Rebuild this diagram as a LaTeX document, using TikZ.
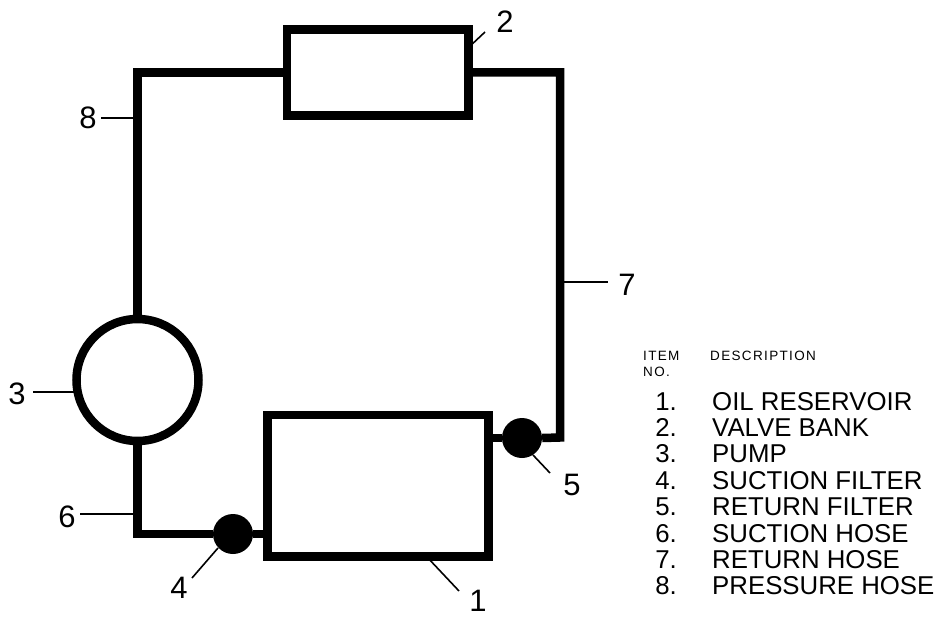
\documentclass[tikz,border=0pt]{standalone}
\usepackage{fontspec}
\setmainfont{Liberation Sans}
\newfontfamily\smallhdr[LetterSpace=10]{Liberation Sans}
\begin{document}
\begin{tikzpicture}[x=1pt,y=-1pt,
  pipe/.style={line width=8.5pt,line join=miter,line cap=butt},
  comp/.style={draw,line width=8.5pt,line join=miter,inner sep=0pt,fill=white},
  filt/.style={circle,fill=black,inner sep=0pt,minimum size=40pt},
  leader/.style={line width=1.6pt},
  lab/.style={inner sep=0pt,font=\fontsize{31}{31}\selectfont},
  num/.style={inner sep=0pt,anchor=base east,font=\fontsize{25.8}{25.8}\selectfont},
  desc/.style={inner sep=0pt,anchor=base west,font=\fontsize{25.8}{25.8}\selectfont},
  hdr/.style={inner sep=0pt,anchor=base west,font=\smallhdr\fontsize{13.5}{13.5}\selectfont}]
\useasboundingbox (0,0) rectangle (943,618);
% components
\node[comp,rectangle,minimum width=181.5pt,minimum height=85.5pt] (valve) at (377.5,72.5) {};
\node[comp,rectangle,minimum width=221pt,minimum height=141.5pt] (res) at (377.75,485.5) {};
\node[comp,circle,minimum size=122pt] (pump) at (137.5,380) {};
\node[filt] (f4) at (233,534) {};
\node[filt] (f5) at (522,438) {};
\coordinate (c7) at (560,437.5);
% pipes
\draw[pipe] (pump.north) |- (valve.west);
\draw[pipe] (valve.east) -| (c7) -- (f5.east);
\draw[pipe] (f5.west) -- (f5.west -| res.east);
\draw[pipe] (pump.south) |- (f4.west);
\draw[pipe] (f4.east) -- (f4.east -| res.west);
% labels and leaders
\node[lab] (l1) at (478,601) {1};
\node[lab] (l2) at (505,21.5) {2};
\node[lab] (l3) at (17,394) {3};
\node[lab] (l4) at (179,588) {4};
\node[lab] (l5) at (572,485) {5};
\node[lab] (l6) at (67,517) {6};
\node[lab] (l7) at (627,285) {7};
\node[lab] (l8) at (88,118) {8};
\coordinate (a1) at (427,557); \coordinate (b1) at (459,591);
\coordinate (a2) at (468,48);  \coordinate (b2) at (485,32);
\coordinate (a3) at (78,392);  \coordinate (b3) at (33,392);
\coordinate (a4) at (218,548); \coordinate (b4) at (192,578);
\coordinate (a5) at (533,455); \coordinate (b5) at (550,473);
\coordinate (a6) at (133,514); \coordinate (b6) at (80,514);
\coordinate (a7) at (564,282); \coordinate (b7) at (608,282);
\coordinate (a8) at (133,118); \coordinate (b8) at (101,118);
\foreach \i in {1,...,8} {\draw[leader] (a\i) -- (b\i);}
% legend
\node[hdr] (h1) at (643,360.7) {ITEM};
\node[hdr] (h2) at (643,376.7) {NO.};
\node[hdr] (h3) at (710,360.7) {DESCRIPTION};
\foreach \n/\t [count=\k from 0] in {1/OIL RESERVOIR,2/VALVE BANK,3/PUMP,4/SUCTION FILTER,5/RETURN FILTER,6/SUCTION HOSE,7/RETURN HOSE,8/PRESSURE HOSE} {
  \node[num] (n\n) at (677,410+26.4*\k) {\n.};
  \node[desc] (d\n) at (712,410+26.4*\k) {\t};
}
\end{tikzpicture}
\end{document}
